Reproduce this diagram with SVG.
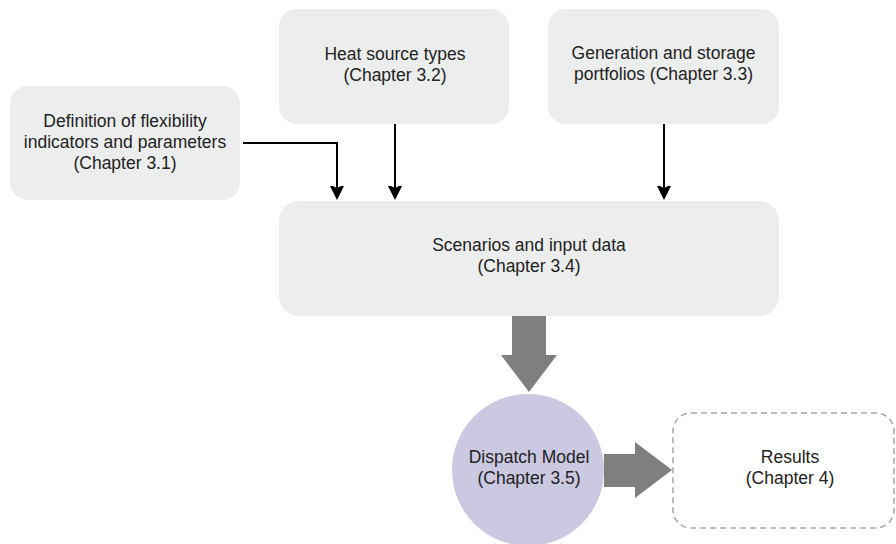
<svg xmlns="http://www.w3.org/2000/svg" width="896" height="544" viewBox="0 0 896 544">
  <style>
    .box { fill: #ECEDED; }
    .lbl { font-family: "Liberation Sans", Arial, sans-serif; font-size: 17.5px; fill: #222222; text-anchor: middle; }
    .link { fill: none; stroke: #000000; stroke-width: 2; marker-end: url(#head); }
    .flow { fill: #7F7F7F; }
  </style>
  <defs>
    <!-- notched black arrowhead; tip sits 4px past the line end -->
    <marker id="head" markerUnits="userSpaceOnUse" markerWidth="20" markerHeight="20" viewBox="-14 -10 20 20" refX="-4" refY="0" orient="auto">
      <path d="M0,0 L-16,-8 L-12,0 L-16,8 Z" fill="#000000"/>
    </marker>
  </defs>
  <rect width="896" height="544" fill="#FFFFFF"/>

  <g id="connectors">
    <!-- thin input connectors -->
    <path class="link" d="M243,143 H337 V196"/>
    <path class="link" d="M395,124 V196"/>
    <path class="link" d="M664,124 V196"/>
    <!-- block arrows -->
    <path class="flow" d="M512,316 H546 V355 H557 L529,392 L501,355 H512 Z"/>
    <path class="flow" d="M604,454 H635 V442 L672,470 L635,498 V487 H604 Z"/>
  </g>

  <g id="definition">
    <rect class="box" x="10" y="86" width="230" height="114" rx="18"/>
    <text class="lbl" x="125" y="127">Definition of flexibility</text>
    <text class="lbl" x="125" y="148">indicators and parameters</text>
    <text class="lbl" x="125" y="169">(Chapter 3.1)</text>
  </g>

  <g id="heat-source">
    <rect class="box" x="279" y="9" width="230" height="115" rx="18"/>
    <text class="lbl" x="395" y="60">Heat source types</text>
    <text class="lbl" x="395" y="81">(Chapter 3.2)</text>
  </g>

  <g id="portfolios">
    <rect class="box" x="548" y="9" width="231" height="115" rx="18"/>
    <text class="lbl" x="663.5" y="59">Generation and storage</text>
    <text class="lbl" x="663.5" y="80">portfolios (Chapter 3.3)</text>
  </g>

  <g id="scenarios">
    <rect class="box" x="279" y="201" width="500" height="115" rx="20"/>
    <text class="lbl" x="529" y="251">Scenarios and input data</text>
    <text class="lbl" x="529" y="272">(Chapter 3.4)</text>
  </g>

  <g id="dispatch">
    <circle cx="528" cy="470" r="76" fill="#CBC8E2"/>
    <text class="lbl" x="529" y="463">Dispatch Model</text>
    <text class="lbl" x="529" y="484">(Chapter 3.5)</text>
  </g>

  <g id="results">
    <rect x="673" y="413" width="221" height="115" rx="18" fill="none" stroke="#A6A6A6" stroke-width="1.5" stroke-dasharray="6 4"/>
    <text class="lbl" x="790" y="463">Results</text>
    <text class="lbl" x="790" y="484">(Chapter 4)</text>
  </g>
</svg>
